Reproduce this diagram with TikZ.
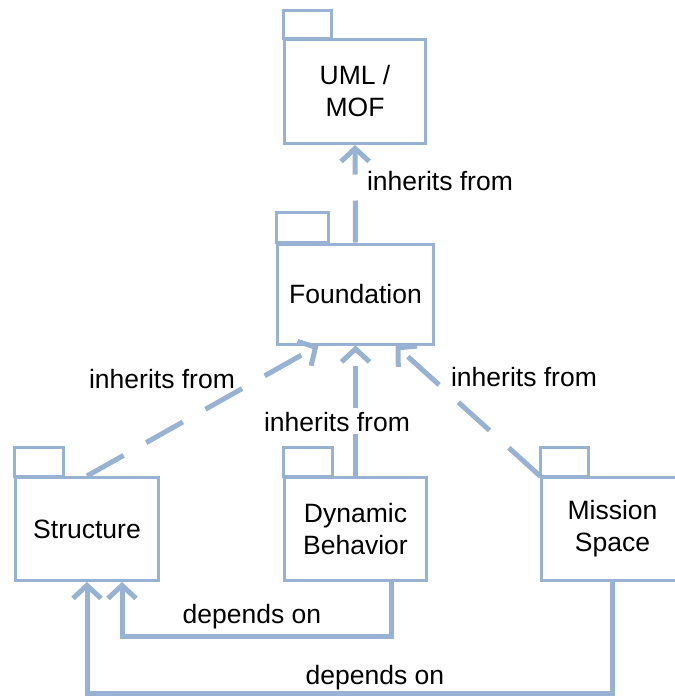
\documentclass[tikz,border=0pt]{standalone}
\usepackage{fontspec}
\setmainfont{Liberation Sans}
\usetikzlibrary{arrows.meta,calc}
\definecolor{pkgblue}{RGB}{152,178,212}
\begin{document}
\begin{tikzpicture}[x=1pt,y=-1pt,
  pkg/.style={draw=pkgblue, line width=3pt, inner sep=0pt, align=center,
    font=\fontsize{26.5}{32}\selectfont},
  tab/.style={draw=pkgblue, line width=3pt},
  lbl/.style={font=\fontsize{26.5}{30}\selectfont, inner sep=0pt},
  inh/.style={draw=pkgblue, line width=5pt, dash pattern=on 42pt off 26pt,
    -{Straight Barb[length=13pt,width=28pt,line width=5pt]}},
  dep/.style={draw=pkgblue, line width=5pt, line join=miter,
    -{Straight Barb[length=13pt,width=28pt,line width=5pt]}}]
\useasboundingbox (0,0) rectangle (675,697);

% packages
\node[pkg, minimum width=141pt, minimum height=104pt] (uml) at (355,91.5) {UML /\\MOF};
\draw[tab] (uml.north west) rectangle ++(48,-28);
\node[pkg, minimum width=156pt, minimum height=100pt] (found) at (355.5,294) {Foundation};
\draw[tab] (found.north west) rectangle ++(52,-30);
\node[pkg, minimum width=143pt, minimum height=103pt] (struct) at (87,529) {Structure};
\draw[tab] (struct.north west) rectangle ++(49,-29);
\node[pkg, minimum width=142pt, minimum height=103pt] (dyn) at (355.5,529) {Dynamic\\Behavior};
\draw[tab] (dyn.north west) rectangle ++(49,-29);
\node[pkg, minimum width=142pt, minimum height=103pt] (miss) at (612.5,529) {Mission\\Space};
\draw[tab] (miss.north west) rectangle ++(48,-29);

% inheritance
\draw[inh] (found.north) -- (uml.south);
\draw[inh] (struct.north) -- ($(found.south)+(-37,0)$);
\draw[inh] (dyn.north) -- (found.south);
\draw[inh] (miss.north west) -- ($(found.south)+(40,0)$);

\node[lbl] (l1) at (440,181) {inherits from};
\node[lbl] (l2) at (162,379) {inherits from};
\node[lbl] (l3) at (337,422) {inherits from};
\node[lbl] (l4) at (524,377) {inherits from};

% dependencies
\coordinate (d1s) at ($(dyn.south)+(35.5,0)$);
\coordinate (d1t) at ($(struct.south)+(35,0)$);
\coordinate (d1y) at (0,636);
\draw[dep] (d1s) -- (d1s |- d1y) -- (d1t |- d1y) -- (d1t);
\coordinate (d2y) at (0,693);
\draw[dep] (miss.south) -- (miss.south |- d2y) -- (struct.south |- d2y) -- (struct.south);

\node[lbl] (l5) at (252,617) {depends on};
\node[lbl] (l6) at (375,678) {depends on};
\end{tikzpicture}
\end{document}
